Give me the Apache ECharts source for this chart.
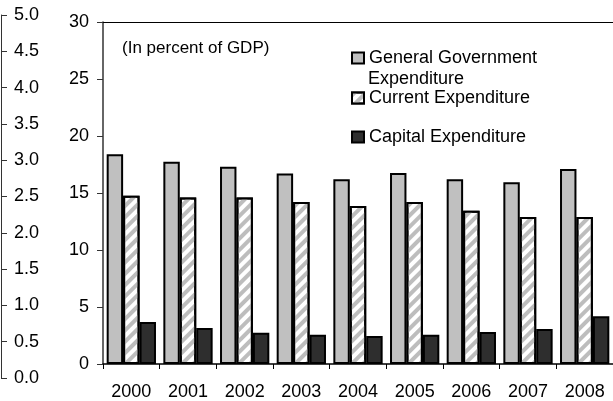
<!DOCTYPE html>
<html>
<head>
<meta charset="utf-8">
<script src="https://cdn.jsdelivr.net/npm/echarts@6/dist/echarts.min.js"></script>
<style>html,body{margin:0;padding:0;background:#fff}#c{width:613px;height:401px}</style>
</head>
<body>
<div id="c"></div>
<script>
var years = ['2000','2001','2002','2003','2004','2005','2006','2007','2008'];
var generalGov = [18.4, 17.75, 17.3, 16.7, 16.2, 16.75, 16.2, 15.95, 17.1];
var currentExp = [14.75, 14.6, 14.6, 14.2, 13.85, 14.2, 13.45, 12.9, 12.9];
var capitalExp = [3.68, 3.16, 2.75, 2.57, 2.46, 2.57, 2.8, 3.07, 4.18];
var seriesNames = ['General Government Expenditure', 'Current Expenditure', 'Capital Expenditure'];
var noteText = '(In percent of GDP)';

var FONT = 'Liberation Sans, Arial, sans-serif';
var chart = echarts.init(document.getElementById('c'), null, {renderer: 'canvas'});
var border = {borderColor: '#000', borderWidth: 2};
var legendText = {fontSize: 18, color: '#000', fontFamily: FONT};
chart.setOption({
  animation: false,
  backgroundColor: '#fff',
  textStyle: {fontFamily: FONT},
  title: {
    text: noteText, left: 117, top: 35,
    textStyle: {fontSize: 17, fontWeight: 'normal', color: '#000', fontFamily: FONT}
  },
  legend: [
    {data: [seriesNames[0]], left: 346, top: 44, itemWidth: 12, itemHeight: 11, icon: 'rect',
     formatter: function(){ return 'General Government'; },
     textStyle: legendText, selectedMode: false},
    {data: [seriesNames[1]], left: 346, top: 84, itemWidth: 12, itemHeight: 11, icon: 'rect',
     textStyle: legendText, selectedMode: false},
    {data: [seriesNames[2]], left: 346, top: 123, itemWidth: 12, itemHeight: 11, icon: 'rect',
     textStyle: legendText, selectedMode: false}
  ],
  graphic: [{
    type: 'text', left: 368, top: 70,
    style: {text: 'Expenditure', font: '18px ' + FONT, fill: '#000'}
  }],
  grid: [
    {left: 103, right: 0, top: 22, bottom: 37},
    {left: 1, width: 20, top: 15, bottom: 23}
  ],
  xAxis: [
    {type: 'category', data: years, gridIndex: 0,
     axisLine: {lineStyle: {color: '#000', width: 1.5}},
     axisTick: {show: true, length: 5, lineStyle: {color: '#000'}},
     axisLabel: {fontSize: 18, color: '#000', margin: 19, fontFamily: FONT}},
    {type: 'category', data: years, gridIndex: 0, position: 'top',
     axisLine: {lineStyle: {color: '#000', width: 1}},
     axisTick: {show: false}, axisLabel: {show: false}},
    {type: 'value', gridIndex: 1, show: false}
  ],
  yAxis: [
    {type: 'value', gridIndex: 0, min: 0, max: 30, interval: 5,
     axisLine: {show: true, lineStyle: {color: '#333', width: 1.5}},
     axisTick: {show: true, length: 6, lineStyle: {color: '#333'}},
     splitLine: {show: false},
     axisLabel: {fontSize: 18, color: '#000', margin: 14, fontFamily: FONT}},
    {type: 'value', gridIndex: 1, min: 0, max: 5, interval: 0.5,
     axisLine: {show: true, lineStyle: {color: '#333', width: 1}},
     axisTick: {show: true, inside: true, length: 6, lineStyle: {color: '#333'}},
     splitLine: {show: false},
     axisLabel: {inside: true, fontSize: 18, color: '#000', margin: 13, fontFamily: FONT,
       formatter: function(v){ return v.toFixed(1); }}}
  ],
  series: [
    {name: seriesNames[0], type: 'bar', data: generalGov, xAxisIndex: 0, yAxisIndex: 0,
     barGap: '0%', barCategoryGap: '13%',
     itemStyle: Object.assign({color: '#c0c0c0'}, border)},
    {name: seriesNames[1], type: 'bar', data: currentExp, xAxisIndex: 0, yAxisIndex: 0,
     barGap: '0%', barCategoryGap: '13%',
     itemStyle: Object.assign({color: '#fff',
       decal: {symbol: 'rect', dashArrayX: [1, 0], dashArrayY: [3.5, 3.5], rotation: -Math.PI / 4, color: '#bdbdbd'}}, border)},
    {name: seriesNames[2], type: 'bar', data: capitalExp, xAxisIndex: 0, yAxisIndex: 0,
     barGap: '0%', barCategoryGap: '13%',
     itemStyle: Object.assign({color: '#2e2e2e'}, border)}
  ]
});
</script>
</body>
</html>
